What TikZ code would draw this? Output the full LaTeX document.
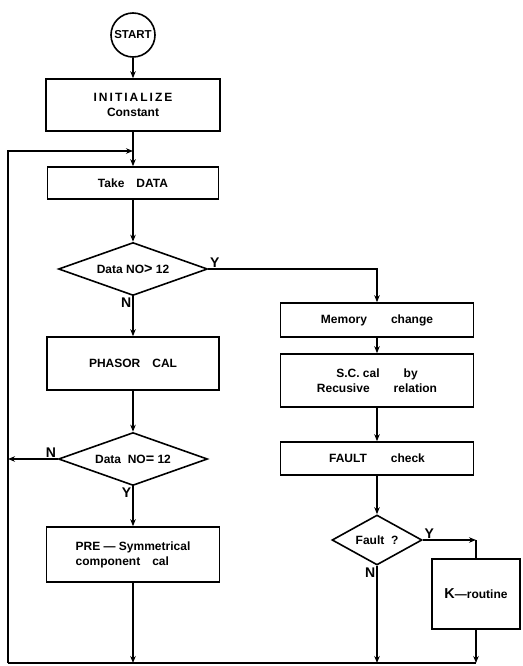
\documentclass[tikz,border=0pt]{standalone}
\usepackage{fontspec}
\setmainfont{Liberation Sans}
\usetikzlibrary{shapes.geometric,arrows.meta}
\tikzset{box/.style={draw, rectangle, inner sep=2pt, align=center, font=\fontsize{12}{15}\selectfont\bfseries},
decision/.style={draw, diamond, inner sep=0pt, font=\fontsize{12}{15}\selectfont\bfseries},
yn/.style={inner sep=1pt, font=\fontsize{14}{16}\selectfont\bfseries},
flow/.style={-{Stealth[length=7pt,width=5.5pt]}}}

\begin{document}
\begin{tikzpicture}[x=1pt,y=-1pt,line width=1.6pt]
    \useasboundingbox (0,0) rectangle (522,666);

    % left column
    \node[draw, circle, minimum size=44pt, inner sep=0pt, font=\fontsize{11.5}{13}\selectfont\bfseries] (start) at (133,35) {START};
    \node[box, minimum width=174pt, minimum height=52pt] (init) at (133,105) {I\,N\,I\,T\,I\,A\,L\,I\,Z\,E\\Constant};
    \node[box, minimum width=171pt, minimum height=32pt] (take) at (133,183) {Take\quad DATA};
    \node[decision, shape aspect=2.8, minimum width=149pt, minimum height=53pt] (dnogt) at (133,269) {Data NO{\Large>} 12};
    \node[box, minimum width=172pt, minimum height=53pt] (phasor) at (133,363.5) {PHASOR\quad CAL};
    \node[decision, shape aspect=2.8, minimum width=149pt, minimum height=53pt] (dnoeq) at (133,459) {Data\ \ NO{\Large=} 12};
    \node[box, minimum width=173pt, minimum height=55pt, align=left] (pre) at (133,554.5) {PRE — Symmetrical\\component\quad cal};

    % right column
    \node[box, minimum width=193pt, minimum height=34pt] (memory) at (377,320) {Memory\qquad change};
    \node[box, minimum width=193pt, minimum height=53pt] (sccal) at (377,380.5) {S.C.\ cal\qquad by\\Recusive\qquad relation};
    \node[box, minimum width=193pt, minimum height=33pt] (fcheck) at (377,458.5) {FAULT\qquad check};
    \node[decision, shape aspect=1.8, minimum width=90pt, minimum height=50pt] (dfault) at (377,540) {Fault\ \ ?};
    \node[box, minimum width=88pt, minimum height=70pt] (kroutine) at (476,594) {{\Large K}—routine};

    \coordinate (looptop) at (8,151);
    \coordinate (loopbot) at (8,663);

    \draw[flow] (start) -- (init);
    \draw[flow] (init) -- (take);
    \draw[flow] (take) -- (dnogt);
    \draw[flow] (dnogt) -- (phasor);
    \draw[flow] (phasor) -- (dnoeq);
    \draw[flow] (dnoeq) -- (pre);
    \draw[flow] (dnogt.east) -- (memory.north |- dnogt.east) -- (memory.north);
    \draw[flow] (memory) -- (sccal);
    \draw[flow] (sccal) -- (fcheck);
    \draw[flow] (fcheck) -- (dfault);
    \draw[flow] (dfault.east) -- (kroutine.north |- dfault.east);
    \draw (kroutine.north |- dfault.east) -- (kroutine.north);

    % return paths
    \draw[flow] (dnoeq.west) -- (loopbot |- dnoeq.west);
    \draw (kroutine.south |- loopbot) -- (loopbot);
    \draw[flow] (loopbot) -- (looptop) -- (init.south |- looptop);
    \foreach \n in {pre,dfault,kroutine}
    \draw[flow] (\n.south) -- (\n.south |- loopbot);

    \node[yn, anchor=south west] at (dnogt.east) {Y};
    \node[yn, anchor=north east] at (dnogt.south) {N};
    \node[yn, anchor=south east] at (dnoeq.west) {N};
    \node[yn, anchor=north east] at (dnoeq.south) {Y};
    \node[yn, anchor=south west] at (dfault.east) {Y};
    \node[yn, anchor=north east] at (dfault.south) {N};

\end{tikzpicture}
\end{document}
